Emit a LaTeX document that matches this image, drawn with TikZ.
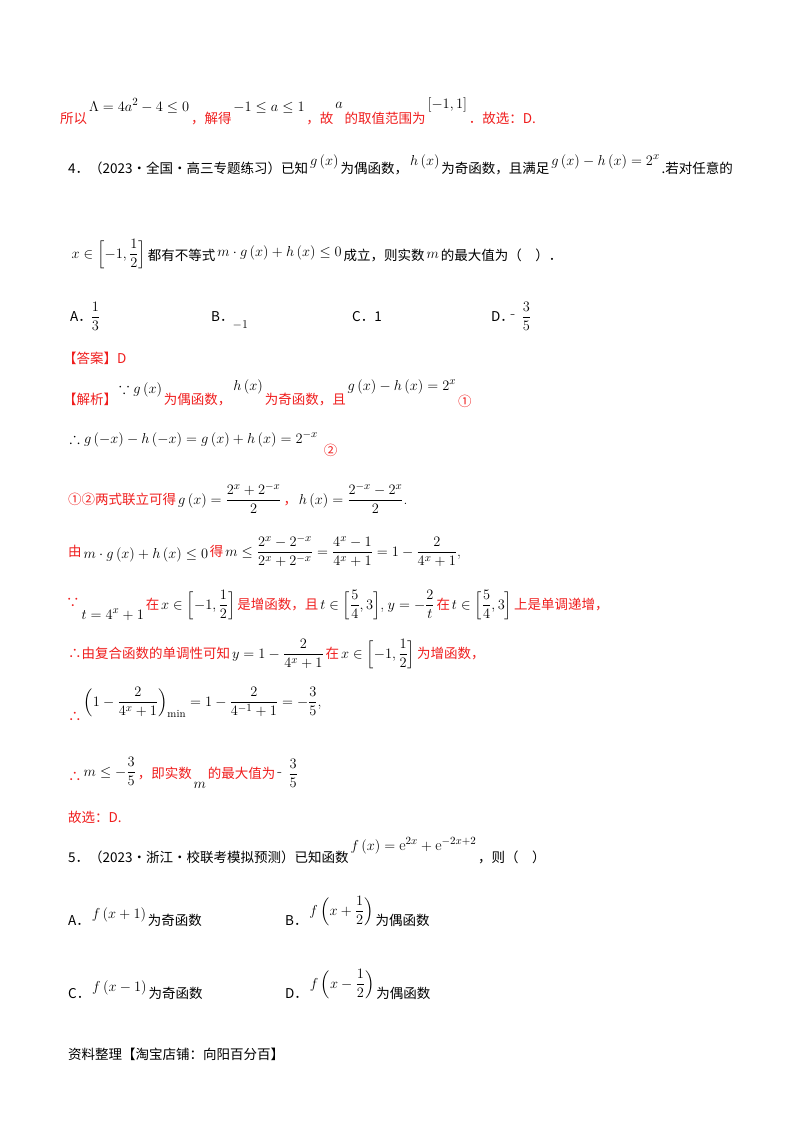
\documentclass[tikz,border=0pt]{standalone}
\usepackage{amsmath,amssymb}
\usepackage{fontspec}
\newfontfamily\cjk{Noto Sans CJK SC}
\definecolor{ansred}{RGB}{240,30,30}
\begin{document}
\begin{tikzpicture}[x=1pt,y=-1pt,
  tx/.style={anchor=base west,inner sep=0pt,font=\cjk\fontsize{13.5}{16}\selectfont},
  mx/.style={anchor=base west,inner sep=0pt,inner xsep=1.5pt,font=\fontsize{15.5}{18}\selectfont},
  rd/.style={text=ansred}]
\useasboundingbox[fill=white] (0,0) rectangle (800,1132);
% line 1
\coordinate (L1) at (0,123);
\node[tx,rd] (a1) at (60,123) {所以};
\node[mx,yshift=12pt] (a2) at (a1.base east |- L1) {$\Lambda=4a^2-4\le 0$};
\node[tx,rd] (a3) at (a2.base east |- L1) {，解得};
\node[mx,yshift=12pt] (a4) at (a3.base east |- L1) {$-1\le a\le 1$};
\node[tx,rd] (a5) at (a4.base east |- L1) {，故};
\node[mx,yshift=15pt] (a6) at (a5.base east |- L1) {$a$};
\node[tx,rd] (a7) at (a6.base east |- L1) {的取值范围为};
\node[mx,yshift=15pt] (a8) at (a7.base east |- L1) {$[-1,1]$};
\node[tx,rd] (a9) at (a8.base east |- L1) {．故选：D.};
% Q4
\coordinate (L2) at (0,173);
\node[tx] (b1) at (68,173) {4．（2023·全国·高三专题练习）已知};
\node[mx,yshift=8pt] (b2) at (b1.base east |- L2) {$g\left(x\right)$};
\node[tx] (b3) at (b2.base east |- L2) {为偶函数，};
\node[mx,yshift=8pt] (b4) at (b3.base east |- L2) {$h\left(x\right)$};
\node[tx] (b5) at (b4.base east |- L2) {为奇函数，且满足};
\node[mx,yshift=8pt] (b6) at (b5.base east |- L2) {$g\left(x\right)-h\left(x\right)=2^x$};
\node[tx] (b7) at (b6.base east |- L2) {.若对任意的};
\coordinate (L3) at (0,260);
\node[mx] (c1) at (70,258) {$x\in\left[-1,\dfrac{1}{2}\right]$};
\node[tx] (c2) at (c1.base east |- L3) {都有不等式};
\node[mx,yshift=4pt] (c3) at (c2.base east |- L3) {$m\cdot g\left(x\right)+h\left(x\right)\le 0$};
\node[tx] (c4) at (c3.base east |- L3) {成立，则实数};
\node[mx,yshift=2pt] (c5) at (c4.base east |- L3) {$m$};
\node[tx] (c6) at (c5.base east |- L3) {的最大值为（　）．};
% options
\node[tx] (d1) at (70,321) {A．};
\node[mx] (d2) at (89,321) {$\dfrac{1}{3}$};
\node[tx] (d3) at (211,321) {B．};
\node[mx] (d4) at (231,328) {\fontsize{12}{14}\selectfont$-1$};
\node[tx] (d5) at (352,321) {C．1};
\node[tx] (d6) at (491,321) {D．};
\node[mx] (d7) at (509,318) {-};
\node[mx] (d8) at (520,321) {$\dfrac{3}{5}$};
% answer
\node[tx,rd] (e1) at (63,363) {【答案】D};
\coordinate (L4) at (0,404);
\node[tx,rd] (f1) at (63,404) {【解析】};
\node[mx,yshift=11pt] (f2) at (f1.base east |- L4) {$\because g\left(x\right)$};
\node[tx,rd] (f3) at (f2.base east |- L4) {为偶函数，};
\node[mx,yshift=14pt] (f4) at (f3.base east |- L4) {$h\left(x\right)$};
\node[tx,rd] (f5) at (f4.base east |- L4) {为奇函数，且};
\node[mx,yshift=14pt] (f6) at (f5.base east |- L4) {$g\left(x\right)-h\left(x\right)=2^x$};
\node[tx,rd,yshift=-2pt] (f7) at (f6.base east |- L4) {①};
\coordinate (L5) at (0,443);
\node[mx] (g1) at (68,443) {$\therefore g\left(-x\right)-h\left(-x\right)=g\left(x\right)+h\left(x\right)=2^{-x}$};
\node[tx,rd,yshift=-12pt] (g2) at ([xshift=4pt]g1.base east |- L5) {②};
\coordinate (L6) at (0,504);
\node[tx,rd] (h1) at (68,504) {①②两式联立可得};
\node[mx] (h2) at (h1.base east |- L6) {$g\left(x\right)=\dfrac{2^x+2^{-x}}{2}$};
\node[tx,rd] (h3) at (h2.base east |- L6) {，};
\node[mx] (h4) at (h3.base east |- L6) {$h\left(x\right)=\dfrac{2^{-x}-2^x}{2}$.};
\coordinate (L7) at (0,556);
\node[tx,rd] (i1) at (68,556) {由};
\node[mx,yshift=-2pt] (i2) at (i1.base east |- L7) {$m\cdot g\left(x\right)+h\left(x\right)\le 0$};
\node[tx,rd] (i3) at (i2.base east |- L7) {得};
\node[mx] (i4) at (i3.base east |- L7) {$m\le\dfrac{2^x-2^{-x}}{2^x+2^{-x}}=\dfrac{4^x-1}{4^x+1}=1-\dfrac{2}{4^x+1}$,};
\coordinate (L8) at (0,609);
\node[tx,rd] (j1) at (66,607) {∵};
\node[mx,yshift=-10pt] (j2) at (j1.base east |- L8) {$t=4^x+1$};
\node[tx,rd] (j3) at (j2.base east |- L8) {在};
\node[mx] (j4) at (j3.base east |- L8) {$x\in\left[-1,\dfrac{1}{2}\right]$};
\node[tx,rd] (j5) at (j4.base east |- L8) {是增函数，且};
\node[mx] (j6) at (j5.base east |- L8) {$t\in\left[\dfrac{5}{4},3\right]$,};
\node[mx] (j7) at (j6.base east |- L8) {$y=-\dfrac{2}{t}$};
\node[tx,rd] (j8) at (j7.base east |- L8) {在};
\node[mx] (j9) at (j8.base east |- L8) {$t\in\left[\dfrac{5}{4},3\right]$};
\node[tx,rd] (j10) at (j9.base east |- L8) {上是单调递增，};
\coordinate (L9) at (0,658);
\node[tx,rd] (k1) at (68,658) {∴由复合函数的单调性可知};
\node[mx] (k2) at (k1.base east |- L9) {$y=1-\dfrac{2}{4^x+1}$};
\node[tx,rd] (k3) at (k2.base east |- L9) {在};
\node[mx] (k4) at (k3.base east |- L9) {$x\in\left[-1,\dfrac{1}{2}\right]$};
\node[tx,rd] (k5) at (k4.base east |- L9) {为增函数，};
\node[tx,rd] (l1) at (68,721) {∴};
\node[mx] (l2) at (82,706) {$\left(1-\dfrac{2}{4^x+1}\right)_{\min}=1-\dfrac{2}{4^{-1}+1}=-\dfrac{3}{5}$,};
\coordinate (L10) at (0,778);
\node[tx,rd] (m1) at (68,781) {∴};
\node[mx] (m2) at (82,776) {$m\le-\dfrac{3}{5}$};
\node[tx,rd] (m3) at (m2.base east |- L10) {，即实数};
\node[mx,yshift=-10pt] (m4) at (m3.base east |- L10) {$m$};
\node[tx,rd] (m5) at (m4.base east |- L10) {的最大值为};
\node[mx,yshift=2pt] (m6) at (m5.base east |- L10) {-};
\node[mx] (m7) at ([xshift=3pt]m6.base east |- L10) {$\dfrac{3}{5}$};
\node[tx,rd] (n1) at (68,822) {故选：D.};
% Q5
\coordinate (L11) at (0,862);
\node[tx] (o1) at (68,862) {5．（2023·浙江·校联考模拟预测）已知函数};
\node[mx,yshift=12pt] (o2) at (o1.base east |- L11) {$f\left(x\right)=\mathrm{e}^{2x}+\mathrm{e}^{-2x+2}$};
\node[tx] (o3) at (o2.base east |- L11) {，则（　）};
\coordinate (L12) at (0,925);
\node[tx] (p1) at (68,925) {A．};
\node[mx,yshift=7pt] (p2) at (p1.base east |- L12) {$f\left(x+1\right)$};
\node[tx] (p3) at (p2.base east |- L12) {为奇函数};
\node[tx] (p4) at (285,925) {B．};
\node[mx,yshift=10pt] (p5) at (p4.base east |- L12) {$f\left(x+\dfrac{1}{2}\right)$};
\node[tx] (p6) at (p5.base east |- L12) {为偶函数};
\coordinate (L13) at (0,998);
\node[tx] (q1) at (68,998) {C．};
\node[mx,yshift=7pt] (q2) at (q1.base east |- L13) {$f\left(x-1\right)$};
\node[tx] (q3) at (q2.base east |- L13) {为奇函数};
\node[tx] (q4) at (285,998) {D．};
\node[mx,yshift=10pt] (q5) at (q4.base east |- L13) {$f\left(x-\dfrac{1}{2}\right)$};
\node[tx] (q6) at (q5.base east |- L13) {为偶函数};
\node[tx] (r1) at (68,1059) {资料整理【淘宝店铺：向阳百分百】};
\end{tikzpicture}
\end{document}
